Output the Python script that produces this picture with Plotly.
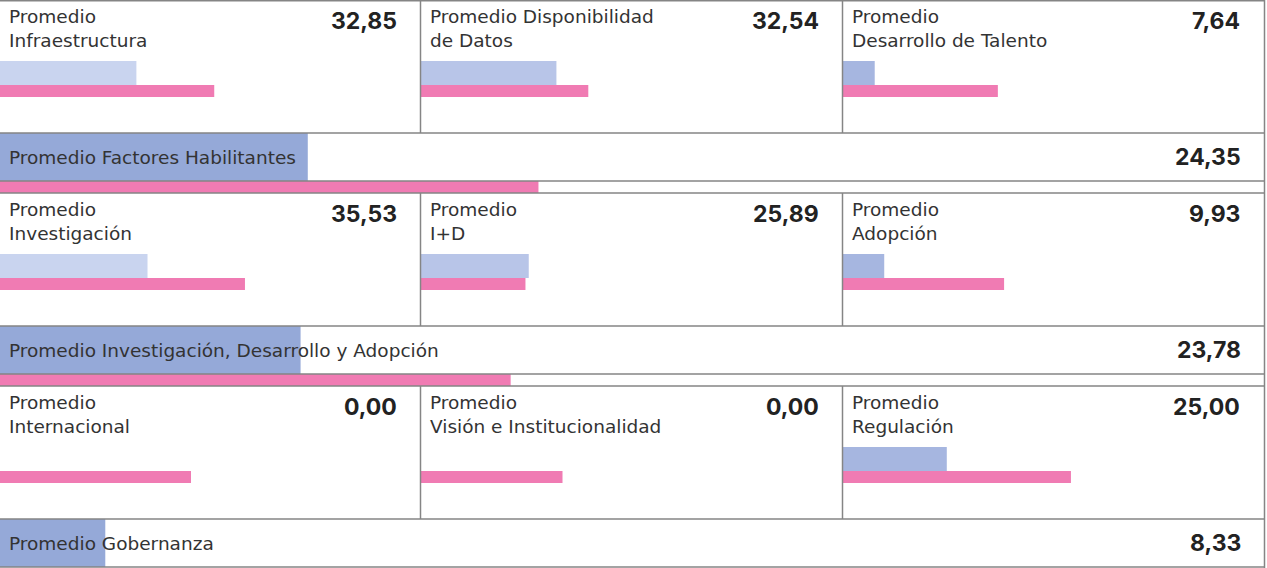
import plotly.graph_objects as go

# ---------------- data ----------------
titles = [
    "Promedio<br>Infraestructura",
    "Promedio Disponibilidad<br>de Datos",
    "Promedio<br>Desarrollo de Talento",
    "Promedio<br>Investigación",
    "Promedio<br>I+D",
    "Promedio<br>Adopción",
    "Promedio<br>Internacional",
    "Promedio<br>Visión e Institucionalidad",
    "Promedio<br>Regulación",
]
values = [32.85, 32.54, 7.64, 35.53, 25.89, 9.93, 0.00, 0.00, 25.00]
reference = [51.6, 40.2, 37.3, 59.0, 25.1, 38.8, 46.0, 34.0, 54.9]

group_titles = [
    "Promedio Factores Habilitantes",
    "Promedio Investigación, Desarrollo y Adopción",
    "Promedio Gobernanza",
]
group_values = [24.35, 23.78, 8.33]
group_reference = [42.6, 40.4]

# ---------------- layout constants ----------------
W, H = 1267, 568
col_x = [(0, 421), (421, 843), (843, 1264)]
row_top = [0, 193, 386]
sum_top = [133, 326, 519]
col_blue = ["#c9d4ef", "#b8c5e8", "#a6b6e0"]
sum_blue = "#95a9d8"
pink = "#f07bb3"
line_col = "#858585"
title_font = dict(family="DejaVu Sans, sans-serif", size=18.5, color="#333333")
label_font = dict(family="DejaVu Sans, sans-serif", size=18.5, color="#333333")
value_font = dict(family="Inter, sans-serif", size=23, color="#222222")


def px_x(p):
    return p / W


def px_y(p):
    return 1 - p / H


def fmt(v):
    return f"{v:.2f}".replace(".", ",")


fig = go.Figure()
layout = {}
annotations = []
shapes = []
ax = 0

# small panels
for i, (t, v, r) in enumerate(zip(titles, values, reference)):
    row, col = divmod(i, 3)
    ax += 1
    xa = "x" if ax == 1 else f"x{ax}"
    ya = "y" if ax == 1 else f"y{ax}"
    x0, x1 = col_x[col]
    top = row_top[row]
    layout["xaxis" if ax == 1 else f"xaxis{ax}"] = dict(
        domain=[px_x(x0), px_x(x1)], range=[0, 101.4], visible=False,
        fixedrange=True, anchor=ya)
    layout["yaxis" if ax == 1 else f"yaxis{ax}"] = dict(
        domain=[px_y(top + 97), px_y(top + 61)], range=[0, 3], visible=False,
        fixedrange=True, anchor=xa)
    fig.add_trace(go.Bar(orientation="h", x=[v], y=[2], width=2, base=0,
                         marker=dict(color=col_blue[col], line=dict(width=0)),
                         xaxis=xa, yaxis=ya, hoverinfo="skip"))
    fig.add_trace(go.Bar(orientation="h", x=[r], y=[0.5], width=1, base=0,
                         marker=dict(color=pink, line=dict(width=0)),
                         xaxis=xa, yaxis=ya, hoverinfo="skip"))
    annotations.append(dict(text=t, x=px_x(x0 + 7), y=px_y(top + 4),
                            xref="paper", yref="paper", xanchor="left",
                            yanchor="top", align="left", showarrow=False,
                            font=title_font))
    annotations.append(dict(text=f"<b>{fmt(v)}</b>", x=px_x(x1 - 22),
                            y=px_y(top + 5), xref="paper", yref="paper",
                            xanchor="right", yanchor="top", showarrow=False,
                            font=value_font))

# summary rows
for g, (t, v) in enumerate(zip(group_titles, group_values)):
    ax += 1
    xa = f"x{ax}"
    ya = f"y{ax}"
    top = sum_top[g]
    has_ref = g < len(group_reference)
    if has_ref:
        dom = [px_y(top + 60), px_y(top)]
        rng = [0, 5]
    else:
        dom = [px_y(top + 48), px_y(top)]
        rng = [1, 5]
    layout[f"xaxis{ax}"] = dict(domain=[0, px_x(1264)], range=[0, 100],
                                visible=False, fixedrange=True, anchor=ya)
    layout[f"yaxis{ax}"] = dict(domain=dom, range=rng, visible=False,
                                fixedrange=True, anchor=xa)
    fig.add_trace(go.Bar(orientation="h", x=[v], y=[3], width=4, base=0,
                         marker=dict(color=sum_blue, line=dict(width=0)),
                         xaxis=xa, yaxis=ya, hoverinfo="skip"))
    if has_ref:
        fig.add_trace(go.Bar(orientation="h", x=[group_reference[g]], y=[0.5],
                             width=1, base=0,
                             marker=dict(color=pink, line=dict(width=0)),
                             xaxis=xa, yaxis=ya, hoverinfo="skip"))
    annotations.append(dict(text=t, x=px_x(7), y=px_y(top + 24),
                            xref="paper", yref="paper", xanchor="left",
                            yanchor="middle", showarrow=False,
                            font=label_font))
    annotations.append(dict(text=f"<b>{fmt(v)}</b>", x=px_x(1243),
                            y=px_y(top + 24), xref="paper", yref="paper",
                            xanchor="right", yanchor="middle", showarrow=False,
                            font=value_font))

# grid lines
hl = [0.75, 133, 181, 193, 326, 374, 386, 519, 567]
for y in hl:
    shapes.append(dict(type="line", xref="paper", yref="paper", x0=0,
                       x1=px_x(1265), y0=px_y(y), y1=px_y(y),
                       line=dict(color=line_col, width=1.5), layer="above"))
for top in row_top:
    for xv in (420.5, 842.5):
        shapes.append(dict(type="line", xref="paper", yref="paper",
                           x0=px_x(xv), x1=px_x(xv), y0=px_y(top),
                           y1=px_y(top + 133),
                           line=dict(color=line_col, width=1.5), layer="above"))
shapes.append(dict(type="line", xref="paper", yref="paper", x0=px_x(1264.5),
                   x1=px_x(1264.5), y0=px_y(0), y1=px_y(568),
                   line=dict(color=line_col, width=1.5), layer="above"))

fig.update_layout(
    width=W, height=H, margin=dict(l=0, r=0, t=0, b=0),
    paper_bgcolor="white", plot_bgcolor="white", showlegend=False,
    barmode="overlay", annotations=annotations, shapes=shapes, **layout)

fig.write_html("out.html", config={"displayModeBar": False})
